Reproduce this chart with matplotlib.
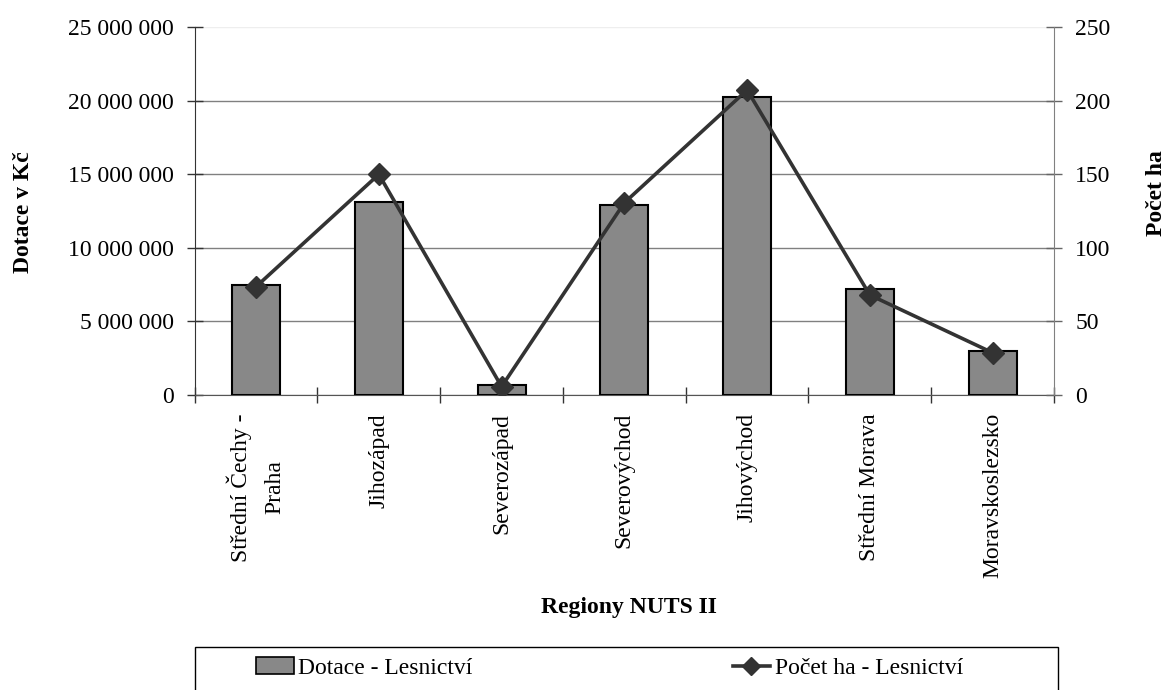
import numpy as np
import matplotlib
matplotlib.use("Agg")
import matplotlib.pyplot as plt
from matplotlib.patches import Patch, Rectangle
from matplotlib.lines import Line2D
from matplotlib.ticker import FixedLocator, NullFormatter

plt.rcParams['font.family'] = ['Liberation Serif', 'DejaVu Serif']

categories = ["Střední Čechy -\nPraha", "Jihozápad", "Severozápad", "Severovýchod",
              "Jihovýchod", "Střední Morava", "Moravskoslezsko"]
dotace = [7470000, 13090000, 680000, 12900000, 20270000, 7220000, 3010000]
pocet_ha = [73.6, 149.9, 5.7, 130.6, 207.2, 67.9, 28.7]
left_ticks = [0, 5000000, 10000000, 15000000, 20000000, 25000000]
left_labels = ["0", "5 000 000", "10 000 000", "15 000 000", "20 000 000", "25 000 000"]
right_ticks = [0, 50, 100, 150, 200, 250]

FS = 17
W, H = 1169, 690
fig = plt.figure(figsize=(W / 100, H / 100), dpi=100)
ax = fig.add_axes([194.7 / W, 1 - 395 / H, (1054 - 194.7) / W, (395 - 27) / H])

x = np.arange(len(categories))
ax.bar(x, dotace, width=0.39, color="#888888", edgecolor="black", linewidth=1.5, zorder=3)
ax.set_xlim(-0.5, len(categories) - 0.5)
ax.set_ylim(0, 25000000)
ax.set_yticks(left_ticks)
ax.set_yticklabels(left_labels, fontsize=FS)
ax.grid(axis='y', color="#808080", linewidth=1.0, zorder=0)
ax.set_axisbelow(True)
gl = ax.yaxis.get_gridlines()
gl[-1].set_color("#eeeeee")

# x ticks: marks at category boundaries, labels at centers
ax.xaxis.set_major_locator(FixedLocator(np.arange(-0.5, len(categories), 1.0)))
ax.xaxis.set_major_formatter(NullFormatter())
ax.xaxis.set_minor_locator(FixedLocator(x))
ax.set_xticklabels(categories, minor=True, rotation=90, fontsize=FS, ha='center', va='top',
                   multialignment='center', linespacing=1.8)
ax.tick_params(axis='x', which='minor', length=0, pad=13)
ax.tick_params(axis='x', which='major', direction='inout', length=11.5, width=1.0, color="#333333")
ax.tick_params(axis='y', direction='inout', length=11.5, width=1.0, pad=9.5, color="#333333")

for s in ['top', 'right']:
    ax.spines[s].set_visible(False)
ax.spines['left'].set_color("#333333")
ax.spines['bottom'].set_color("#555555")

ax2 = ax.twinx()
ax2.plot(x, pocet_ha, color="#333333", linewidth=2.6, marker='D', markersize=11,
         markerfacecolor="#333333", markeredgecolor="#333333", zorder=5)
ax2.set_ylim(0, 250)
ax2.set_yticks(right_ticks)
ax2.set_yticklabels([str(v) for v in right_ticks], fontsize=FS)
ax2.tick_params(axis='y', direction='inout', length=11.5, width=1.0, pad=9.5, color="#666666")
for s in ['top', 'left', 'bottom']:
    ax2.spines[s].set_visible(False)
ax2.spines['right'].set_color("#808080")

fig.text(24 / W, 1 - 212 / H, "Dotace v Kč", rotation=90, fontsize=FS, fontweight='bold',
         ha='center', va='center')
fig.text(1156 / W, 1 - 193 / H, "Počet ha", rotation=90, fontsize=FS, fontweight='bold',
         ha='center', va='center')
fig.text(629 / W, 1 - 607 / H, "Regiony NUTS II", fontsize=FS, fontweight='bold',
         ha='center', va='center')

handles = [Patch(facecolor="#888888", edgecolor="black", linewidth=1.2),
           Line2D([0], [0], color="#333333", linewidth=2.6, marker='D', markersize=9,
                  markerfacecolor="#333333")]
fig.legend(handles, ["Dotace - Lesnictví", "Počet ha - Lesnictví"], ncol=2,
           loc='center left', bbox_to_anchor=(256 / W, 1 - 668 / H), frameon=False,
           fontsize=FS, handlelength=1.6, handletextpad=0.2, columnspacing=11.0,
           borderpad=0, borderaxespad=0)
fig.patches.append(Rectangle((195 / W, -0.1), (1058 - 195) / W, 0.1 + (690 - 647) / H,
                             transform=fig.transFigure, fill=False, edgecolor="black",
                             linewidth=1.0))

fig.savefig("out.png", dpi=100)
